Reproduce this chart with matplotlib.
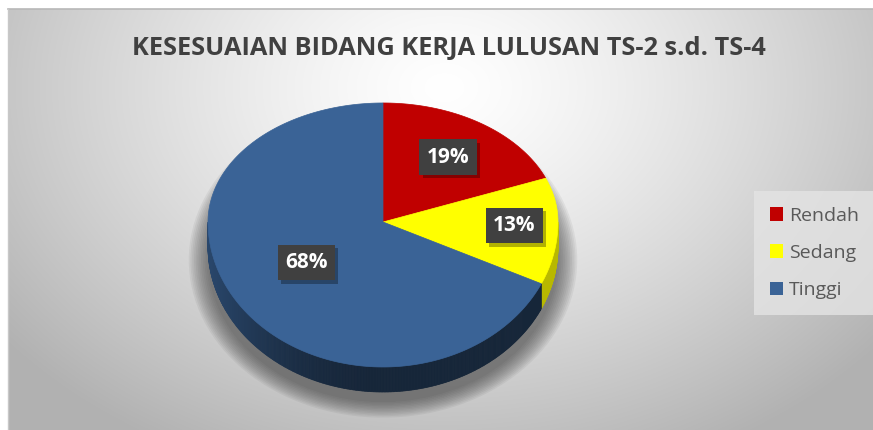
import numpy as np
import matplotlib
matplotlib.use('Agg')
import matplotlib.pyplot as plt
from matplotlib.patches import Polygon, Ellipse, Patch
import matplotlib.patheffects as pe

# data
categories = ['Rendah', 'Sedang', 'Tinggi']
percent = [19, 13, 68]
colors = ['#C00000', '#FFFF00', '#3A6396']
side_colors = ['#7a0000', '#b8b800', '#3A6396']
title = 'KESESUAIAN BIDANG KERJA LULUSAN TS-2 s.d. TS-4'

W, H = 873, 430
fig = plt.figure(figsize=(W / 100, H / 100), dpi=100)
ax = fig.add_axes([0, 0, 1, 1])
ax.set_xlim(0, W)
ax.set_ylim(H, 0)
ax.axis('off')

# background: white margin, framed radial gradient
yy, xx = np.mgrid[0:H, 0:W]
r = np.sqrt(((xx - 440) / 470) ** 2 + ((yy - 80) / 350) ** 2)
v = 1.0 - 0.24 * np.clip(r, 0, 1.2) ** 1.3
bg = np.dstack([v, v, v])
ax.imshow(bg, extent=(8, W, H, 9), zorder=0, aspect='auto')
ax.plot([8, W], [9, 9], color='#b8b8b8', lw=1.2, zorder=1)
ax.plot([8, 8], [9, H], color='#c8c8c8', lw=1.0, zorder=1)

# pie geometry (pixels)
cx, cy = 383, 222
a = 175
b_up, b_lo = 119, 145
depth = 25


def pt(theta):
    t = np.radians(theta)
    b = b_up if np.sin(t) >= 0 else b_lo
    return cx + a * np.cos(t), cy - b * np.sin(t)


# soft shadow under the pie
for i in range(12):
    s = 1.0 + i * 0.01
    ax.add_patch(Ellipse((cx, cy + 38), 2 * a * s, 2 * 142 * s,
                         facecolor='#404040', alpha=0.07, lw=0, zorder=2))

# slice angles: start at 12 o'clock, clockwise
fracs = np.array(percent) / sum(percent)
ends = 90 - 360 * np.cumsum(fracs)
starts = np.concatenate([[90], ends[:-1]])

# side walls (front half only)
for i in range(len(percent)):
    t_hi, t_lo = starts[i], ends[i]
    for k in range(-1, 2):
        lo = max(t_lo, 180 + 360 * k)
        hi = min(t_hi, 360 + 360 * k)
        if lo >= hi:
            continue
        steps = np.linspace(lo, hi, int((hi - lo) * 2) + 2)
        base = np.array(matplotlib.colors.to_rgb(side_colors[i]))
        for t0, t1 in zip(steps[:-1], steps[1:]):
            c = -np.cos(np.radians((t0 + t1) / 2))
            if i == 2:
                shade = 0.38 + 0.34 * max(0.0, c) ** 2
            else:
                shade = 1.0
            x0, y0 = pt(t0)
            x1, y1 = pt(t1)
            poly = Polygon([(x0, y0), (x1, y1), (x1, y1 + depth), (x0, y0 + depth)],
                           closed=True, facecolor=base * shade, edgecolor=base * shade,
                           lw=0.5, zorder=3)
            ax.add_patch(poly)

# top face
for i in range(len(percent)):
    th = np.linspace(starts[i], ends[i], 200)
    arc = [pt(t) for t in th]
    ax.add_patch(Polygon([(cx, cy)] + arc, closed=True, facecolor=colors[i],
                         edgecolor=colors[i], lw=0.5, zorder=4))

# data labels
label_r = [0.66, 0.75, 0.52]
for i, p in enumerate(percent):
    mid = (starts[i] + ends[i]) / 2
    t = np.radians(mid)
    b = b_up if np.sin(t) >= 0 else b_lo
    lx = cx + a * label_r[i] * np.cos(t)
    ly = cy - b * label_r[i] * np.sin(t)
    txt = ax.text(lx, ly, f'{p}%', ha='center', va='center', fontsize=15,
                  fontweight='bold', family='Open Sans', color='white',
                  bbox=dict(boxstyle='square,pad=0.35', facecolor='#404040',
                            edgecolor='none'), zorder=6)
    txt.get_bbox_patch().set_path_effects(
        [pe.SimplePatchShadow(offset=(2.5, -2.5), shadow_rgbFace='black', alpha=0.3),
         pe.Normal()])

# title
ax.text(449, 48, title, ha='center', va='center', fontsize=18.3,
        fontweight='bold', family='Open Sans', color='#404040', zorder=6)

# legend
handles = [Patch(facecolor=c, edgecolor='none') for c in colors]
leg = fig.legend(handles, categories, loc='center left',
                 bbox_to_anchor=(754 / W, 1 - 253 / H), frameon=True, fancybox=False,
                 prop={'family': 'Open Sans', 'size': 14}, labelcolor='#595959',
                 handlelength=0.7, handleheight=0.7, handletextpad=0.3,
                 labelspacing=1.0, borderpad=0.8, borderaxespad=0)
leg.get_frame().set_facecolor('#e4e4e4')
leg.get_frame().set_edgecolor('none')

fig.savefig('out.png', dpi=100)
